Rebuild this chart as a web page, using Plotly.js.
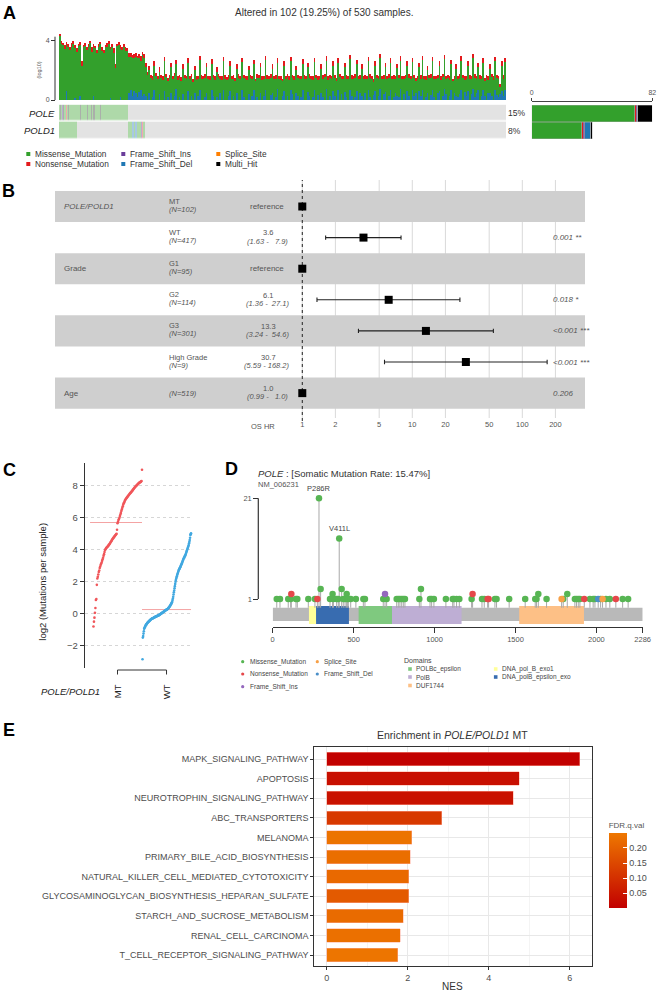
<!DOCTYPE html>
<html><head><meta charset="utf-8">
<script src="https://cdn.plot.ly/plotly-3.0.1.min.js"></script>
<style>html,body{margin:0;padding:0;background:#fff}#c{width:658px;height:992px}</style>
</head><body><div id="c"></div>
<script>
// ================= DATA =================
const sampleTotal = 530;
const mutTypes = ['Missense_Mutation','Nonsense_Mutation','Frame_Shift_Ins','Frame_Shift_Del','Splice_Site','Multi_Hit'];
// TMB bars (log10), each bar = 2 samples
const tmbTotal = [
4.45,3.95,3.85,3.7,3.9,3.75,3.6,3.85,3.95,3.7,
3.5,3.8,3.9,2.6,3.7,3.85,3.6,3.75,4.0,3.55,
3.8,3.65,3.4,3.75,3.9,3.6,3.35,3.7,3.85,3.95,
3.6,3.75,3.5,2.4,3.8,3.9,3.7,3.55,3.75,3.6,
3.5,3.15,3.2,3.05,3.1,3.2,3.0,3.1,2.95,3.25,
3.1,2.5,1.9,2.3,1.7,1.6,2.6,1.8,1.65,2.2,
1.7,1.6,2.9,1.75,1.5,1.7,2.5,1.65,1.8,2.7,
1.6,1.7,1.55,2.4,1.7,1.65,2.8,1.6,1.75,1.45,
2.3,1.6,1.65,3.0,1.7,1.6,1.75,2.5,1.65,1.6,
2.75,1.7,1.6,2.2,1.75,1.65,1.6,2.9,1.7,1.55,
1.7,2.6,1.65,1.7,1.5,2.4,1.75,1.6,2.85,1.7,
1.65,1.6,2.3,1.7,1.65,2.7,1.45,1.75,1.7,2.5,
1.6,1.65,3.0,1.7,1.6,1.75,2.4,1.6,1.7,2.8,
1.65,1.6,1.45,2.6,1.65,1.75,1.6,2.9,1.7,1.6,
2.3,1.7,1.65,1.6,2.75,1.7,1.6,2.5,1.75,1.65,
1.6,2.85,1.7,1.6,1.65,2.4,1.7,1.75,2.95,1.6,
1.7,1.65,2.6,1.7,1.5,2.8,1.75,1.65,1.6,2.5,
1.7,1.6,3.05,1.7,1.65,1.75,2.7,1.6,1.7,2.4,
1.65,1.7,1.6,2.9,1.75,1.65,1.45,2.6,1.7,1.65,
3.1,1.6,1.7,2.5,1.65,1.75,2.8,1.6,1.7,1.65,
2.4,1.7,2.95,1.6,1.65,1.7,2.6,1.75,1.6,2.85,
1.7,1.5,1.6,2.5,1.7,3.0,1.65,1.6,2.3,1.7,
1.75,2.9,1.6,1.65,1.7,2.6,1.6,1.75,3.05,1.65,
1.7,1.6,2.7,1.45,1.65,2.4,1.6,1.75,2.95,1.7,
1.6,1.65,2.6,1.7,1.6,3.1,1.75,1.65,2.5,1.7,
1.6,2.8,1.5,1.7,1.6,2.4,1.75,1.6,2.9,1.7,
1.65,1.1,2.6,1.7,2.85];
const tmbBlue = [
0,0,0,0,0.6,0,0,0,0,0.15,
0,0,0.25,0,0,0,0,0,0,0,
0.3,0,0,0,0,0,0,0,0,0,
0.15,0,0,0,0,0,0.2,0,0,0,
0,0.5,0.7,0.3,0.6,0.45,0.2,0.55,0.65,0.3,
0.4,0.3,0,0.5,0,0.2,0.7,0,0,0.4,
0,0,0.6,0,0.2,0,0.5,0,0.3,0.75,
0,0.2,0,0.4,0,0,0.6,0,0.25,0,
0.5,0,0.3,0.7,0,0,0.2,0.5,0,0,
0.65,0.3,0,0.2,0,0.45,0,0.7,0,0,
0.25,0.6,0,0.3,0,0.5,0,0,0.7,0.2,
0,0,0.4,0,0.3,0.65,0,0.2,0,0.5,
0,0.25,0.7,0,0,0.35,0.5,0,0.2,0.75,
0,0,0.3,0.6,0,0.25,0,0.7,0.4,0,
0.5,0.3,0,0.2,0.65,0,0,0.55,0.3,0,
0.2,0.7,0,0.35,0,0.5,0.2,0,0.75,0,
0.3,0,0.6,0.25,0,0.7,0,0.4,0,0.55,
0.2,0,0.7,0.3,0,0.2,0.6,0,0.45,0.3,
0,0.5,0,0.7,0.2,0,0.35,0.6,0,0.25,
0.75,0,0.4,0.55,0,0.3,0.7,0,0.2,0.5,
0.3,0.2,0.75,0,0.4,0,0.6,0.3,0,0.7,
0.25,0.5,0,0.6,0.3,0.7,0,0.2,0.45,0,
0.35,0.7,0.2,0,0.5,0.6,0,0.3,0.75,0.4,
0,0.25,0.65,0,0.5,0.3,0.2,0.4,0.7,0,
0.55,0.3,0.6,0,0.4,0.75,0.2,0.5,0.65,0,
0.3,0.7,0.25,0,0.5,0.45,0.3,0,0.7,0.35,
0.2,0.4,0.6,0.3,0.65];
const tmbRed = [
0.15,0.2,0.15,0.25,0.2,0.15,0.2,0.3,0.15,0.2,
0.25,0.15,0.2,0.3,0.15,0.2,0.25,0.2,0.15,0.3,
0.2,0.15,0.25,0.2,0.15,0.3,0.2,0.15,0.25,0.2,
0.15,0.2,0.3,0.25,0.15,0.2,0.25,0.15,0.2,0.3,
0.2,0.25,0.3,0.2,0.25,0.3,0.2,0.25,0.3,0.2,
0.25,0.3,0.2,0.25,0.2,0.25,0.3,0.2,0.25,0.3,
0.2,0.25,0.3,0.2,0.25,0.2,0.3,0.25,0.2,0.3,
0.25,0.2,0.25,0.3,0.2,0.25,0.3,0.2,0.2,0.25,
0.3,0.25,0.2,0.3,0.25,0.2,0.25,0.3,0.2,0.25,
0.3,0.2,0.25,0.3,0.2,0.2,0.25,0.3,0.25,0.2,
0.25,0.3,0.2,0.25,0.2,0.3,0.25,0.2,0.3,0.2,
0.25,0.25,0.3,0.2,0.25,0.3,0.2,0.25,0.2,0.3,
0.25,0.2,0.3,0.25,0.2,0.25,0.3,0.2,0.25,0.3,
0.2,0.25,0.2,0.3,0.25,0.2,0.25,0.3,0.2,0.25,
0.3,0.2,0.25,0.2,0.3,0.25,0.2,0.3,0.25,0.2,
0.25,0.3,0.2,0.25,0.2,0.3,0.25,0.2,0.3,0.25,
0.2,0.25,0.3,0.2,0.25,0.3,0.2,0.25,0.2,0.3,
0.25,0.2,0.3,0.25,0.2,0.25,0.3,0.2,0.25,0.3,
0.2,0.25,0.2,0.3,0.25,0.2,0.25,0.3,0.2,0.25,
0.3,0.2,0.25,0.3,0.2,0.25,0.3,0.2,0.25,0.2,
0.25,0.2,0.3,0.2,0.25,0.2,0.3,0.25,0.2,0.3,
0.2,0.25,0.2,0.3,0.25,0.3,0.2,0.25,0.3,0.2,
0.25,0.3,0.2,0.25,0.2,0.3,0.25,0.2,0.3,0.25,
0.2,0.25,0.3,0.2,0.25,0.3,0.2,0.25,0.3,0.2,
0.25,0.2,0.3,0.25,0.2,0.3,0.25,0.2,0.3,0.25,
0.2,0.3,0.25,0.2,0.25,0.3,0.2,0.25,0.3,0.2,
0.25,0.2,0.3,0.25,0.3];
// oncoplot: type code per sample (1..6 = mutTypes index+1, 0 = none), samples 0..101; rest unaltered
const poleTypes = [
1,6,1,1,3,6,1,1,2,1,
1,6,1,1,1,1,1,1,1,1,
1,1,1,1,1,6,1,1,1,1,
1,1,1,6,1,1,1,1,6,1,
6,1,6,1,1,1,1,1,1,6,
1,1,1,1,1,1,1,1,1,1,
6,1,1,1,1,1,1,1,1,1,
1,1,1,1,1,1,1,1,1,1,
1,1,0,0,0,0,0,0,0,0,
0,0,0,0,0,0,0,0,0,0,
0,0];
const pold1Types = [
1,1,1,1,1,1,1,1,1,1,
1,1,1,1,1,1,1,1,1,1,
1,0,0,0,0,0,0,0,0,0,
0,0,0,0,0,0,0,0,0,0,
0,0,0,0,0,0,0,0,0,0,
0,0,0,0,0,0,0,0,0,0,
0,0,0,0,0,0,0,0,0,0,
0,0,0,0,0,0,0,0,0,0,
0,0,1,1,1,1,1,4,4,1,
4,4,1,1,1,1,1,3,2,6,
1,1];
const genes = ['POLE','POLD1'];

// forest plot
const forestVar = ['POLE/POLD1','','Grade','','','','Age'];
const forestLevel = ['MT','WT','G1','G2','G3','High Grade',''];
const forestN = [102,417,95,114,301,9,519];
const forestHR = [1,3.6,1,6.1,13.3,30.7,1.0];
const forestLo = [null,1.63,null,1.36,3.24,5.59,0.99];
const forestHi = [null,7.9,null,27.1,54.6,168.2,1.0];
const forestP = ['','0.001 **','','0.018 *','<0.001 ***','<0.001 ***','0.206'];
const forestRef = [true,false,true,false,false,false,false];
const forestTicks = [1,2,5,10,20,50,100,200];

// TMB comparison (log2 mutations per sample), sorted
const groups = ['MT','WT'];
const mtVals = [-0.8,-0.5,-0.25,0.05,0.35,0.85,0.92,1.8,2.2,2.3,
2.45,2.6,2.7,2.85,2.95,3.05,3.12,3.2,3.3,3.4,
3.5,3.62,3.72,3.85,3.98,4.03,4.08,4.12,4.15,4.18,
4.22,4.26,4.3,4.34,4.38,4.43,4.48,4.53,4.58,4.63,
4.68,4.72,4.76,4.8,4.84,4.88,4.92,4.96,5.0,5.25,
5.65,5.75,5.85,5.92,6.0,6.1,6.2,6.3,6.42,6.52,
6.62,6.72,6.82,6.9,6.97,7.05,7.1,7.15,7.2,7.24,
7.28,7.32,7.36,7.4,7.44,7.48,7.52,7.55,7.58,7.62,
7.66,7.7,7.74,7.78,7.82,7.86,7.9,7.93,7.97,8.0,
8.03,8.06,8.09,8.12,8.15,8.18,8.2,8.22,8.24,8.26,
8.3,9.0];
const wtVals = [-2.85,-1.5,-1.4,-1.25,-1.1,-0.95,-0.9,-0.85,-0.8,-0.76,
-0.72,-0.69,-0.66,-0.63,-0.6,-0.57,-0.55,-0.53,-0.51,-0.49,
-0.47,-0.45,-0.43,-0.41,-0.39,-0.37,-0.35,-0.34,-0.32,-0.31,
-0.3,-0.29,-0.28,-0.27,-0.26,-0.24,-0.23,-0.22,-0.21,-0.2,
-0.19,-0.18,-0.17,-0.16,-0.15,-0.14,-0.13,-0.12,-0.11,-0.1,
-0.09,-0.08,-0.06,-0.05,-0.03,-0.02,0,0.01,0.03,0.04,
0.06,0.07,0.09,0.1,0.12,0.13,0.15,0.16,0.18,0.19,
0.21,0.22,0.24,0.25,0.26,0.27,0.29,0.31,0.33,0.36,
0.38,0.41,0.44,0.47,0.5,0.54,0.58,0.62,0.66,0.7,
0.75,0.85,0.95,1.06,1.2,1.33,1.45,1.58,1.72,1.86,
2.0,2.1,2.18,2.26,2.34,2.42,2.48,2.54,2.6,2.67,
2.73,2.77,2.81,2.85,2.9,2.94,2.99,3.04,3.09,3.14,
3.19,3.24,3.3,3.35,3.41,3.46,3.5,3.54,3.59,3.63,
3.67,3.73,3.79,3.86,3.92,3.98,4.04,4.1,4.17,4.23,
4.29,4.4,4.5,4.6,4.75,4.92,4.97,5.02];

// lollipop (POLE)
const proteinLen = 2286;
const lolPos = [25,45,96,111,115,144,152,220,261,276,286,296,354,370,375,395,405,411,426,436,
447,457,461,467,482,514,560,570,683,694,704,766,776,786,797,807,817,906,916,972,
982,996,1070,1112,1120,1136,1153,1229,1235,1293,1307,1328,1334,1373,1383,1461,1560,1622,1630,1641,
1692,1785,1795,1820,1867,1877,1888,1898,1925,1960,1980,1991,2011,2026,2038,2059,2083,2120,2162,2196];
const lolCount = [1,1,1,1,2,1,1,1,1,1,21,3,1,2,1,1,1,13,3,1,
1,2,1,1,1,1,1,1,1,2,1,1,1,1,1,1,1,1,3,1,
1,1,1,1,1,1,1,1,2,1,1,1,1,1,1,1,1,1,1,2,
1,1,1,2,1,1,1,1,1,1,1,1,1,1,1,1,1,1,1,1];
const lolType = [0,0,0,0,1,0,0,0,0,1,0,0,0,0,0,0,0,0,0,0,
0,0,0,0,0,0,0,0,0,2,0,0,0,0,0,0,0,0,0,0,
0,0,0,0,0,0,0,0,1,0,0,1,1,0,0,0,0,0,0,0,
0,4,0,0,0,0,0,0,1,0,0,0,3,0,4,0,0,1,0,0];
const lolLabel = ['','','','','','','','','','','P286R','','','','','','','V411L','',''];
const domName = ['DNA_pol_B_exo1','DNA_polB_epsilon_exo','POLBc_epsilon','PolB','DUF1744'];
const domStart = [224,268,531,737,1523];
const domEnd = [268,471,737,1167,1923];
const domLegendOrder = ['POLBc_epsilon','PolB','DUF1744','DNA_pol_B_exo1','DNA_polB_epsilon_exo'];
const lolLegendOrder = [0,1,2,4,3];
const lolXTicks = [0,500,1000,1500,2000,2286];

// enrichment
const pathways = ['MAPK_SIGNALING_PATHWAY','APOPTOSIS','NEUROTROPHIN_SIGNALING_PATHWAY','ABC_TRANSPORTERS','MELANOMA','PRIMARY_BILE_ACID_BIOSYNTHESIS','NATURAL_KILLER_CELL_MEDIATED_CYTOTOXICITY','GLYCOSAMINOGLYCAN_BIOSYNTHESIS_HEPARAN_SULFATE','STARCH_AND_SUCROSE_METABOLISM','RENAL_CELL_CARCINOMA','T_CELL_RECEPTOR_SIGNALING_PATHWAY'];
const nes = [6.24,4.75,4.61,2.84,2.10,2.06,2.03,2.02,1.89,1.81,1.75];
const fdr = [0.005,0.035,0.04,0.12,0.24,0.23,0.22,0.19,0.225,0.235,0.245];

// ================= STYLE / LAYOUT HELPERS =================
const W=658,H=992;
const X=p=>p/W, Y=p=>1-p/H;
const dx=(a,b)=>[a/W,b/W], dy=(t,b)=>[1-b/H,1-t/H];
const FONT='Liberation Sans, Arial, sans-serif';
const typeColor = ['#33A02C','#E31A1C','#6A3D9A','#1F78B4','#FF7F00','#000000'];
const oncoColor = ['#dadada','#93cc8c','#ee8c8c','#a48fc2','#8ab6da','#ffbf85','#8e948e'];
const lolColor = ['#57B553','#E5474A','#9467BD','#4A8FC8','#F7A047'];
const domColor = {'DNA_pol_B_exo1':'#FFFF99','DNA_polB_epsilon_exo':'#386CB0','POLBc_epsilon':'#7FC97F','PolB':'#BEAED4','DUF1744':'#FDC086'};
const annotations=[], shapes=[], traces=[];
function txt(x,y,text,o={}){annotations.push({xref:'paper',yref:'paper',x:X(x),y:Y(y),text,showarrow:false,
  xanchor:o.xa||'left',yanchor:o.ya||'middle',textangle:o.angle||0,borderpad:0,
  font:{family:FONT,size:o.size||8,color:o.color||'#444',weight:o.weight||'normal'}});}
function rectPx(x0,y0,x1,y1,color){shapes.push({type:'rect',xref:'paper',yref:'paper',x0:X(x0),x1:X(x1),y0:Y(y1),y1:Y(y0),fillcolor:color,line:{width:0}});}
function linePx(x0,y0,x1,y1,color,w){shapes.push({type:'line',xref:'paper',yref:'paper',x0:X(x0),x1:X(x1),y0:Y(y0),y1:Y(y1),line:{color:color,width:w||1}});}

// panel labels
[['A',9.5,13],['B',8.7,191],['C',9.2,470],['D',231,469],['E',9.2,730]].forEach(l=>txt(l[1],l[2],l[0],{xa:'center',size:18,color:'#000',weight:'bold'}));

// ================= PANEL A =================
const nAltered = poleTypes.filter((t,i)=>t>0||pold1Types[i]>0).length;
txt(324,13,`Altered in ${nAltered} (${(nAltered/sampleTotal*100).toFixed(2)}%) of ${sampleTotal} samples.`,{xa:'center',size:10,color:'#333'});
const barIdx = tmbTotal.map((_,i)=>i);
const tmbGreen = tmbTotal.map((t,i)=>t-tmbBlue[i]-tmbRed[i]);
[[tmbBlue,typeColor[3]],[tmbGreen,typeColor[0]],[tmbRed,typeColor[1]]].forEach(s=>{
  traces.push({type:'bar',x:barIdx,y:s[0],width:1,marker:{color:s[1],line:{width:0}},xaxis:'x',yaxis:'y',hoverinfo:'skip'});
});
linePx(55,36.7,55,100,'#333',1);
txt(38.5,70,'(log10)',{xa:'center',size:5.5,angle:-90,color:'#555'});

// oncoplot heatmap
const rowOf = arr=>{const r=[];for(let s=0;s<sampleTotal;s++){r.push(s<arr.length?arr[s]:0);}return r;};
const cs=[];oncoColor.forEach((c,k)=>{cs.push([k/7,c]);cs.push([(k+1)/7,c]);});
traces.push({type:'heatmap',z:[rowOf(poleTypes),rowOf(pold1Types)],y:[0,1],x:[...Array(sampleTotal).keys()],
  zmin:-0.5,zmax:6.5,colorscale:cs,showscale:false,xgap:0.25,ygap:1.5,xaxis:'x2',yaxis:'y2',hoverinfo:'skip'});
[[poleTypes,113.5],[pold1Types,130.5]].forEach((g,gi)=>{
  txt(55.5,g[1],`<i>${genes[gi]}</i>`,{xa:'right',size:9.5,color:'#222'});
  const n=g[0].filter(t=>t>0).length;
  txt(507,g[1],Math.round(n/sampleTotal*100)+'%',{size:8.5,color:'#333'});
});
// side bar counts
mutTypes.forEach((m,k)=>{
  const cnt=[poleTypes,pold1Types].map(a=>a.filter(t=>t===k+1).length);
  traces.push({type:'bar',orientation:'h',y:[0,1],x:cnt,width:0.96,marker:{color:typeColor[k],line:{color:'#aaaaaa',width:0.4}},xaxis:'x3',yaxis:'y3',hoverinfo:'skip'});
});
// legend A
mutTypes.forEach((m,k)=>{
  const cx=[28.3,123.3,218.3][Math.floor(k/2)], cy=[154,164][k%2];
  rectPx(cx-2,cy-2,cx+2,cy+2,typeColor[k]);
  txt(cx+6,cy,m,{size:8.3,color:'#333'});
});

// ================= PANEL B =================
const fyv = forestHR.map((_,i)=>i+1);
// grid lines first, then bands on top (bands hide grid), then the dotted reference line
forestTicks.forEach(t=>shapes.push({type:'line',xref:'x4',yref:'paper',x0:t,x1:t,y0:Y(418),y1:Y(180),line:{color:'#d9d9d9',width:1},layer:'below'}));
for(let k=1;k<=7;k+=2){shapes.push({type:'rect',xref:'paper',x0:X(55),x1:X(585),yref:'y4',y0:k-0.5,y1:k+0.5,fillcolor:'#cfcfcf',line:{width:0},layer:'below'});}
shapes.push({type:'line',xref:'x4',x0:1,x1:1,yref:'paper',y0:Y(421),y1:Y(180),line:{color:'#222',width:1,dash:'dot'},layer:'below'});
traces.push({type:'scatter',mode:'markers',x:forestHR,y:fyv,xaxis:'x4',yaxis:'y4',hoverinfo:'skip',cliponaxis:false,
  marker:{symbol:'square',size:8,color:'#000'},
  error_x:{type:'data',symmetric:false,array:forestHi.map((h,i)=>h==null?0:h-forestHR[i]),arrayminus:forestLo.map((l,i)=>l==null?0:forestHR[i]-l),width:2.2,thickness:1.1,color:'#222'}});
function fann(x,k,text,o={}){annotations.push({xref:'paper',yref:'y4',x:X(x),y:k,yshift:o.ys||0,text,showarrow:false,borderpad:0,
  xanchor:o.xa||'left',yanchor:'middle',font:{family:FONT,size:o.size||8,color:'#555'}});}
const pad5=s=>'\u00a0'.repeat(Math.max(0,5-s.length))+s;
for(let i=0;i<7;i++){
  const k=i+1;
  if(forestVar[i]) fann(63,k,i===0?`<i>${forestVar[i]}</i>`:forestVar[i]);
  if(forestLevel[i]){fann(168,k,forestLevel[i],{ys:5,size:7.5});fann(168,k,`<i>(N=${forestN[i]})</i>`,{ys:-3,size:7.5});}
  else fann(168,k,`<i>(N=${forestN[i]})</i>`,{size:7.5});
  if(forestRef[i]) fann(267,k,'reference',{xa:'center'});
  else{fann(268,k,forestHR[i].toFixed(1),{xa:'center',ys:4.8,size:7.5});
       fann(267,k,`<i>(${forestLo[i].toFixed(2)} - ${pad5(forestHi[i].toFixed(1))})</i>`,{xa:'center',ys:-3.5,size:7.5});}
  if(forestP[i]) fann(552,k,`<i>${forestP[i]}</i>`);
}
txt(263,426,'OS HR',{xa:'center',size:7.5,color:'#555'});

// ================= PANEL C =================
const med=a=>{const s=[...a].sort((p,q)=>p-q),n=s.length;return n%2?s[(n-1)/2]:(s[n/2-1]+s[n/2])/2;};
const mtX=mtVals.map((_,i)=>0.01+0.99*i/(mtVals.length-1));
const wtX=wtVals.map((_,i)=>1.01+0.99*i/(wtVals.length-1));
traces.push({type:'scatter',mode:'lines',x:[-0.06,1.0],y:[med(mtVals),med(mtVals)],line:{color:'#f4a3a3',width:1},xaxis:'x5',yaxis:'y5',hoverinfo:'skip'});
traces.push({type:'scatter',mode:'lines',x:[1.0,2.0],y:[med(wtVals),med(wtVals)],line:{color:'#f4a3a3',width:1},xaxis:'x5',yaxis:'y5',hoverinfo:'skip'});
traces.push({type:'scatter',mode:'markers',x:mtX,y:mtVals,marker:{size:2.6,color:'#F0565A'},xaxis:'x5',yaxis:'y5',hoverinfo:'skip',cliponaxis:false});
traces.push({type:'scatter',mode:'markers',x:wtX,y:wtVals,marker:{size:2.6,color:'#41A8E0'},xaxis:'x5',yaxis:'y5',hoverinfo:'skip',cliponaxis:false});
txt(43,581.7,'log2 (Mutations per sample)',{xa:'center',size:9.5,angle:-90,color:'#222'});
groups.forEach((g,gi)=>annotations.push({xref:'x5',yref:'paper',x:gi+0.5,y:Y(691.7),text:g,textangle:-90,showarrow:false,xanchor:'center',yanchor:'middle',font:{family:FONT,size:9.5,color:'#222'}}));
txt(101,691.7,'<i>POLE/POLD1</i>',{xa:'right',size:9.5,color:'#222'});
shapes.push({type:'line',xref:'x5',yref:'paper',x0:0.5,x1:1.5,y0:Y(670),y1:Y(670),line:{color:'#333',width:1}});
[0.5,1.5].forEach(v=>shapes.push({type:'line',xref:'x5',yref:'paper',x0:v,x1:v,y0:Y(670),y1:Y(674.5),line:{color:'#333',width:1}}));

// ================= PANEL D =================
txt(257,473.3,'<i>POLE</i> : [Somatic Mutation Rate: 15.47%]',{size:9.5,color:'#333'});
txt(257,484.5,'NM_006231',{size:7.5,color:'#555'});
shapes.push({type:'rect',xref:'x6',yref:'y6',x0:0,x1:proteinLen,y0:-3.37,y1:-0.73,fillcolor:'#b9b9b9',line:{width:0},layer:'below'});
domName.forEach((d,i)=>shapes.push({type:'rect',xref:'x6',yref:'y6',x0:domStart[i],x1:domEnd[i],y0:-3.97,y1:-0.39,fillcolor:domColor[d],line:{width:0},layer:'below'}));
shapes.push({type:'line',xref:'paper',yref:'y6',x0:X(258.3),x1:X(258.3),y0:1,y1:21,line:{color:'#333',width:1.2}});
const sx=[],sy=[];lolPos.forEach((p,i)=>{sx.push(p,p,null);sy.push(-0.73,lolCount[i],null);});
traces.push({type:'scatter',mode:'lines',x:sx,y:sy,line:{color:'#a8a8a8',width:1},xaxis:'x6',yaxis:'y6',hoverinfo:'skip'});
[0,1,2,3,4].forEach(t=>{
  const ix=lolPos.map((_,i)=>i).filter(i=>lolType[i]===t);
  traces.push({type:'scatter',mode:'markers',x:ix.map(i=>lolPos[i]),y:ix.map(i=>lolCount[i]),marker:{size:6.5,color:lolColor[t],line:{width:0}},xaxis:'x6',yaxis:'y6',hoverinfo:'skip',cliponaxis:false});
});
lolLabel.forEach((l,i)=>{if(l)annotations.push({xref:'x6',yref:'y6',x:lolPos[i],y:lolCount[i],yshift:10,text:l,showarrow:false,xanchor:'center',yanchor:'middle',font:{family:FONT,size:7.5,color:'#444'}});});
// legend D
lolLegendOrder.forEach((t,j)=>{
  const cx=[242.7,317.3][Math.floor(j/3)], cy=[661.7,674,686.7][j%3];
  shapes.push({type:'circle',xref:'paper',yref:'paper',x0:X(cx-1.6),x1:X(cx+1.6),y0:Y(cy+1.6),y1:Y(cy-1.6),fillcolor:lolColor[t],line:{width:0}});
  txt(cx+6,cy,mutTypes[t],{size:6.5,color:'#444'});
});
txt(403,660,'Domains',{size:7,color:'#444'});
domLegendOrder.forEach((d,j)=>{
  const cx=[410,495.7][Math.floor(j/3)], cy=[669,677,685.5][j%3];
  rectPx(cx-1.8,cy-1.8,cx+1.8,cy+1.8,domColor[d]);
  txt(cx+5,cy,d,{size:6.5,color:'#444'});
});

// ================= PANEL E =================
traces.push({type:'bar',orientation:'h',x:nes,y:pathways,width:0.69,xaxis:'x7',yaxis:'y7',hoverinfo:'skip',
  marker:{color:fdr,colorscale:[[0,'#C20000'],[1,'#EE7800']],cmin:0.003,cmax:0.251,showscale:true,
    line:{color:'rgba(255,170,150,0.8)',width:0.6},
    colorbar:{x:X(608.7),xanchor:'left',xpad:0,y:Y(863),yanchor:'middle',ypad:0,len:89.4,lenmode:'pixels',thickness:18,thicknessmode:'pixels',
      outlinewidth:0,tickvals:[0.05,0.1,0.15,0.2],ticktext:['0.05','0.10','0.15','0.20'],ticks:'inside',ticklen:4,tickcolor:'white',
      tickfont:{family:FONT,size:9,color:'#4d4d4d'},title:{text:'FDR.q.val',side:'top',font:{family:FONT,size:8,color:'#555'}}}}});
txt(452.5,735,'Enrichment in <i>POLE/POLD1</i> MT',{xa:'center',size:10.5,color:'#333'});
txt(452.5,986,'NES',{xa:'center',size:10,color:'#333'});

// ================= LAYOUT =================
const tf=(s,c)=>({family:FONT,size:s,color:c||'#555'});
const layout={width:W,height:H,margin:{l:0,r:0,t:0,b:0},paper_bgcolor:'#fff',plot_bgcolor:'rgba(0,0,0,0)',showlegend:false,barmode:'stack',font:{family:FONT},
 xaxis:{domain:dx(59,506),range:[-0.5,tmbTotal.length-0.5],visible:false,anchor:'y'},
 yaxis:{domain:dy(32,100),range:[0,4.585],anchor:'free',position:X(55),tickvals:[0,4],ticks:'outside',ticklen:4,tickcolor:'#333',tickfont:tf(7),showgrid:false,zeroline:false,showline:false},
 xaxis2:{domain:dx(59,506),range:[-0.5,sampleTotal-0.5],visible:false,anchor:'y2'},
 yaxis2:{domain:dy(104.6,139.4),range:[1.5,-0.5],visible:false,anchor:'x2'},
 xaxis3:{domain:dx(531.7,652.3),range:[0,82],side:'top',anchor:'free',position:Y(100.5),tickvals:[0,82],ticks:'outside',ticklen:3,tickcolor:'#444',showline:true,linecolor:'#444',linewidth:1,tickfont:tf(7),showgrid:false,zeroline:false},
 yaxis3:{domain:dy(105,139),range:[1.5,-0.5],visible:false,anchor:'x3'},
 xaxis4:{domain:dx(55,585),type:'log',range:[-2.248,2.57],anchor:'y4',tickvals:forestTicks,ticktext:forestTicks.map(String),ticks:'',tickfont:tf(7.5),showgrid:false,showline:false,zeroline:false},
 yaxis4:{domain:dy(180,418),range:[7.8,0.148],visible:false,anchor:'x4'},
 xaxis5:{domain:dx(85,193),range:[-0.163,2.04],visible:false,anchor:'y5'},
 yaxis5:{domain:dy(462.7,668),range:[-3.4,9.44],anchor:'x5',tickvals:[-2,0,2,4,6,8],ticks:'outside',ticklen:4,tickcolor:'#333',showline:true,linecolor:'#333',linewidth:1.2,showgrid:true,gridcolor:'#d6d6d6',griddash:'dot',zeroline:false,tickfont:tf(9.5,'#4d4d4d')},
 xaxis6:{domain:dx(272.7,642.7),range:[0,proteinLen],anchor:'y6',tickvals:lolXTicks,ticks:'outside',ticklen:5,tickcolor:'#333',showline:true,linecolor:'#333',linewidth:1.2,tickfont:tf(7.5),showgrid:false,zeroline:false},
 yaxis6:{domain:dy(495,627),range:[-4.56,21.66],anchor:'free',position:X(258.3),tickvals:[1,21],ticks:'outside',ticklen:5,tickcolor:'#333',tickfont:tf(7.5),showgrid:false,zeroline:false,showline:false},
 xaxis7:{domain:dx(314.3,591.7),range:[-0.306,6.54],anchor:'y7',tick0:0,dtick:2,ticks:'outside',ticklen:3,tickcolor:'#333',tickfont:tf(9,'#4d4d4d'),showgrid:true,gridcolor:'#e8e8e8',minor:{dtick:1,showgrid:true,gridcolor:'#f4f4f4'},showline:true,mirror:true,linecolor:'#333',linewidth:1,zeroline:false},
 yaxis7:{domain:dy(746.7,966),type:'category',categoryorder:'array',categoryarray:pathways,range:[10.56,-0.628],anchor:'x7',ticks:'outside',ticklen:3,tickcolor:'#333',tickfont:tf(9,'#4d4d4d'),showgrid:true,gridcolor:'#e8e8e8',showline:true,mirror:true,linecolor:'#333',linewidth:1,zeroline:false},
 annotations,shapes};
Plotly.newPlot('c',traces,layout,{displayModeBar:false,staticPlot:true});
</script></body></html>
